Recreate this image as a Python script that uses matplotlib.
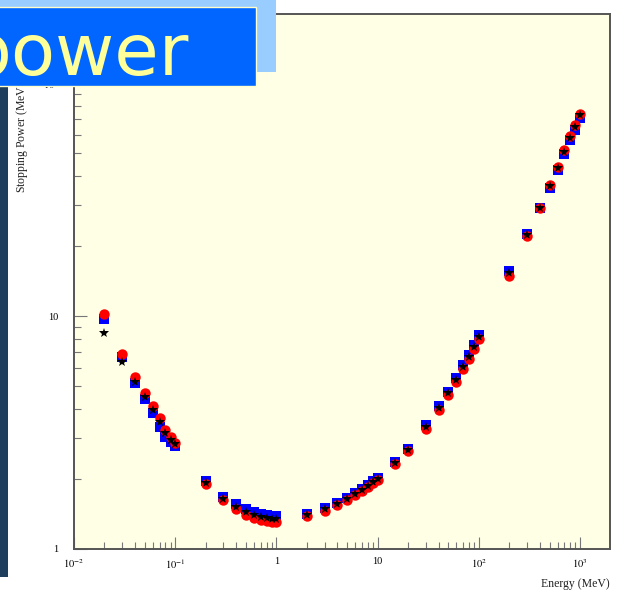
import numpy as np
import matplotlib.pyplot as plt
from matplotlib.patches import Rectangle

# kinetic energy (MeV)
energy = [0.02, 0.03, 0.04, 0.05, 0.06, 0.07, 0.08, 0.09, 0.1,
          0.2, 0.3, 0.4, 0.5, 0.6, 0.7, 0.8, 0.9, 1.0,
          2, 3, 4, 5, 6, 7, 8, 9, 10,
          15, 20, 30, 40, 50, 60, 70, 80, 90, 100,
          200, 300, 400, 500, 600, 700, 800, 900, 1000]

# stopping power from three calculations
sp_red = [10.2, 6.87, 5.47, 4.67, 4.11, 3.65, 3.24, 3.03, 2.85,
          1.90, 1.62, 1.48, 1.40, 1.36, 1.33, 1.32, 1.31, 1.31,
          1.38, 1.46, 1.54, 1.62, 1.70, 1.77, 1.84, 1.92, 1.98,
          2.31, 2.63, 3.28, 3.97, 4.60, 5.22, 5.93, 6.55, 7.23, 7.98,
          14.8, 22.0, 29.0, 36.5, 43.8, 51.5, 59.0, 66.0, 74.0]
sp_blue = [9.7, 6.67, 5.16, 4.40, 3.83, 3.34, 3.03, 2.88, 2.77,
           1.96, 1.67, 1.56, 1.48, 1.44, 1.41, 1.40, 1.39, 1.39,
           1.42, 1.50, 1.58, 1.66, 1.74, 1.81, 1.88, 1.96, 2.02,
           2.37, 2.69, 3.39, 4.10, 4.74, 5.40, 6.15, 6.78, 7.48, 8.28,
           15.6, 22.5, 29.0, 35.5, 42.3, 49.5, 56.8, 63.0, 71.0]
sp_star = [8.45, 6.35, 5.21, 4.49, 3.95, 3.51, 3.15, 2.94, 2.82,
           1.92, 1.64, 1.51, 1.44, 1.40, 1.37, 1.36, 1.35, 1.35,
           1.40, 1.48, 1.56, 1.64, 1.72, 1.79, 1.86, 1.94, 2.00,
           2.34, 2.66, 3.34, 4.03, 4.67, 5.31, 6.04, 6.67, 7.36, 8.13,
           15.3, 22.3, 29.1, 36.1, 43.2, 50.6, 58.1, 64.7, 72.9]

serif = 'Liberation Serif'
plt.rcParams['mathtext.fontset'] = 'stix'

fig = plt.figure(figsize=(6.18, 5.94), dpi=100)
fig.patch.set_facecolor('white')

ax = fig.add_axes([74 / 618, 1 - 549 / 594, 536 / 618, 535 / 594])
ax.set_facecolor('#ffffe6')
ax.set_xscale('log')
ax.set_yscale('log')
ax.set_xlim(0.01, 1977)
ax.set_ylim(1, 198)

ax.plot(energy, sp_blue, 's', color='#0000ff', markersize=7, markeredgewidth=0)
ax.plot(energy, sp_red, 'o', color='#ff0000', markersize=7.5, markeredgewidth=0)
ax.plot(energy, sp_star, '*', color='black', markersize=7, markeredgewidth=0)

for side in ['left', 'bottom', 'top', 'right']:
    ax.spines[side].set_color('#555555')
    ax.spines[side].set_linewidth(1.4)

ax.tick_params(which='both', direction='in', top=False, right=False,
               color='#777777', labelsize=7.5)
ax.tick_params(which='major', length=9, width=0.8)
ax.tick_params(which='minor', length=5, width=0.8)
ax.tick_params(axis='x', pad=6)
ax.tick_params(axis='y', pad=11)

ax.set_xticks([0.01, 0.1, 1, 10, 100, 1000])
ax.set_xticklabels(['$10^{-2}$', '$10^{-1}$', '1', '10', '$10^{2}$', '$10^{3}$'])
ax.set_yticks([1, 10, 100])
ax.set_yticklabels(['1', '10', '$10^{2}$'])
for lab in ax.get_xticklabels() + ax.get_yticklabels():
    lab.set_family(serif)

ax.text(1.0, -0.055, 'Energy (MeV)', transform=ax.transAxes, ha='right', va='top',
        fontsize=8.5, family=serif, color='#222222')
fig.text(22 / 618, 1 - 193 / 594, 'Stopping Power (MeV cm$^2$/g)', rotation=90,
         ha='center', va='bottom', fontsize=8.5, family=serif, color='#222222')

# slide decoration: side bar and title box
fig.add_artist(Rectangle((0, 1 - 577 / 594), 8 / 618, 491 / 594,
                         transform=fig.transFigure, facecolor='#1f3d5c',
                         edgecolor='none', zorder=5))
fig.add_artist(Rectangle((-0.01, 1 - 72 / 594), 282 / 618, 80 / 594,
                         transform=fig.transFigure, facecolor='#99ccff',
                         edgecolor='none', zorder=6))
fig.add_artist(Rectangle((-0.01, 1 - 86 / 594), 262 / 618, 79 / 594,
                         transform=fig.transFigure, facecolor='#0066ff',
                         edgecolor='#ffffcc', linewidth=1, zorder=7))
fig.text(-34 / 618, 1 - 75 / 594, 'power', ha='left', va='baseline',
         fontsize=52, color='#ffff99', family='DejaVu Sans', zorder=8)

fig.savefig('out.png', dpi=100)
